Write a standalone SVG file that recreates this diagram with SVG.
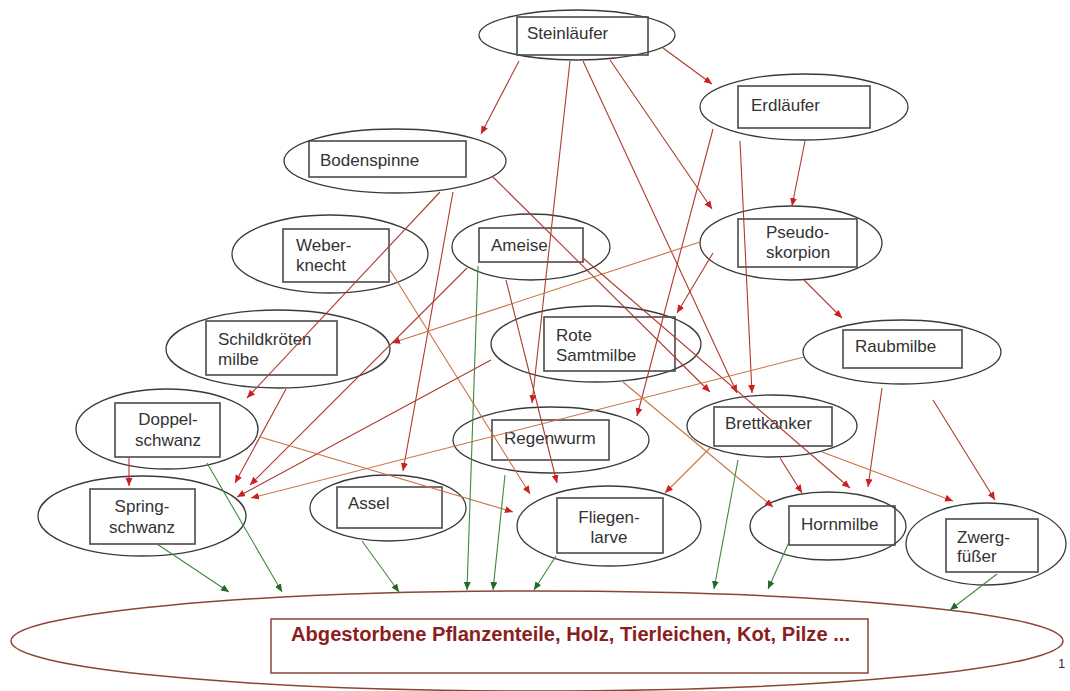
<svg xmlns="http://www.w3.org/2000/svg" width="1070" height="691" viewBox="0 0 1070 691">
<defs>
<style>
.el{fill:none;stroke:#3a3a3a;stroke-width:1.3}
.bx{fill:none;stroke:#4a4a4a;stroke-width:1.6}
.t{font-family:"Liberation Sans",Arial,sans-serif;font-size:17px;fill:#333}
.r{stroke:#b0392e;stroke-width:1.1;fill:none;marker-end:url(#ar)}
.o{stroke:#c8733f;stroke-width:1.1;fill:none;marker-end:url(#ar)}
.g{stroke:#3f8a3f;stroke-width:1.1;fill:none;marker-end:url(#ag)}
</style>
<marker id="ar" markerUnits="userSpaceOnUse" markerWidth="9" markerHeight="8" refX="8" refY="3.5" orient="auto"><path d="M0,0 L8,3.5 L0,7 z" fill="#cc1f1f"/></marker>
<marker id="ag" markerUnits="userSpaceOnUse" markerWidth="9" markerHeight="8" refX="8" refY="3.5" orient="auto"><path d="M0,0 L8,3.5 L0,7 z" fill="#1f6a2a"/></marker>
</defs>
<rect width="1070" height="691" fill="#ffffff"/>

<g id="detritus">
<ellipse cx="537" cy="641" rx="526" ry="50" fill="none" stroke="#8a4634" stroke-width="1.5"/>
<rect x="271" y="619" width="597" height="54" fill="none" stroke="#8a4634" stroke-width="1.5"/>
<text x="291" y="641" font-family="'Liberation Sans',Arial,sans-serif" font-size="20" font-weight="bold" fill="#8b1e1e" textLength="559" lengthAdjust="spacingAndGlyphs">Abgestorbene Pflanzenteile, Holz, Tierleichen, Kot, Pilze ...</text>
</g>

<g id="steinlaeufer"><ellipse class="el" cx="577" cy="35" rx="98" ry="25"/><rect class="bx" x="517" y="17" width="131" height="38"/><text class="t" x="527" y="39">Steinläufer</text></g>
<g id="erdlaeufer"><ellipse class="el" cx="804" cy="107" rx="104" ry="33"/><rect class="bx" x="738" y="86" width="132" height="42"/><text class="t" x="751" y="111">Erdläufer</text></g>
<g id="bodenspinne"><ellipse class="el" cx="395" cy="161" rx="111" ry="32"/><rect class="bx" x="309" y="141" width="157" height="36"/><text class="t" x="320" y="166">Bodenspinne</text></g>
<g id="pseudoskorpion"><ellipse class="el" cx="791" cy="243" rx="91" ry="37"/><rect class="bx" x="738" y="219" width="119" height="48"/><text class="t" x="766" y="238">Pseudo-</text><text class="t" x="766" y="258">skorpion</text></g>
<g id="weberknecht"><ellipse class="el" cx="330" cy="254" rx="98" ry="39"/><rect class="bx" x="283" y="229" width="106" height="53"/><text class="t" x="296" y="251">Weber-</text><text class="t" x="296" y="271">knecht</text></g>
<g id="ameise"><ellipse class="el" cx="531" cy="247" rx="79" ry="33"/><rect class="bx" x="479" y="228" width="104" height="34"/><text class="t" x="491" y="251">Ameise</text></g>
<g id="schildkroetenmilbe"><ellipse class="el" cx="278" cy="349" rx="112" ry="39"/><rect class="bx" x="206" y="321" width="131" height="54"/><text class="t" x="218" y="345">Schildkröten</text><text class="t" x="218" y="365">milbe</text></g>
<g id="rotesamtmilbe"><ellipse class="el" cx="596" cy="344" rx="105" ry="38"/><rect class="bx" x="544" y="317" width="131" height="54"/><text class="t" x="556" y="341">Rote</text><text class="t" x="556" y="361">Samtmilbe</text></g>
<g id="raubmilbe"><ellipse class="el" cx="902" cy="352" rx="99" ry="32"/><rect class="bx" x="843" y="330" width="119" height="38"/><text class="t" x="855" y="352">Raubmilbe</text></g>
<g id="doppelschwanz"><ellipse class="el" cx="167" cy="429" rx="91" ry="40"/><rect class="bx" x="115" y="403" width="105" height="54"/><text class="t" x="168" y="425" text-anchor="middle">Doppel-</text><text class="t" x="168" y="446" text-anchor="middle">schwanz</text></g>
<g id="regenwurm"><ellipse class="el" cx="551" cy="440" rx="98" ry="33"/><rect class="bx" x="492" y="420" width="117" height="40"/><text class="t" x="504" y="444">Regenwurm</text></g>
<g id="brettkanker"><ellipse class="el" cx="772" cy="426" rx="85" ry="31"/><rect class="bx" x="714" y="407" width="118" height="39"/><text class="t" x="725" y="429">Brettkanker</text></g>
<g id="springschwanz"><ellipse class="el" cx="142" cy="516" rx="104" ry="40"/><rect class="bx" x="90" y="489" width="105" height="55"/><text class="t" x="142" y="512" text-anchor="middle">Spring-</text><text class="t" x="142" y="533" text-anchor="middle">schwanz</text></g>
<g id="assel"><ellipse class="el" cx="388" cy="508" rx="78" ry="33"/><rect class="bx" x="337" y="487" width="105" height="41"/><text class="t" x="348" y="509">Assel</text></g>
<g id="fliegenlarve"><ellipse class="el" cx="609" cy="526" rx="92" ry="40"/><rect class="bx" x="557" y="498" width="106" height="55"/><text class="t" x="609" y="523" text-anchor="middle">Fliegen-</text><text class="t" x="609" y="543" text-anchor="middle">larve</text></g>
<g id="hornmilbe"><ellipse class="el" cx="828" cy="526" rx="78" ry="34"/><rect class="bx" x="789" y="506" width="106" height="39"/><text class="t" x="801" y="530">Hornmilbe</text></g>
<g id="zwergfuesser"><ellipse class="el" cx="986" cy="544" rx="80" ry="41"/><rect class="bx" x="946" y="519" width="92" height="53"/><text class="t" x="957" y="543">Zwerg-</text><text class="t" x="957" y="562">füßer</text></g>

<g id="connectors">
<line class="r" x1="519" y1="61" x2="481" y2="134"/>
<line class="r" x1="663" y1="48" x2="712" y2="84"/>
<line class="r" x1="610" y1="60" x2="712" y2="209"/>
<line class="r" x1="570" y1="61" x2="532" y2="403"/>
<line class="r" x1="583" y1="61" x2="737" y2="393"/>
<line class="r" x1="805" y1="141" x2="792" y2="206"/>
<line class="r" x1="740" y1="141" x2="752" y2="393"/>
<line class="r" x1="713" y1="129" x2="637" y2="416"/>
<line class="r" x1="440" y1="192" x2="247" y2="398"/>
<line class="r" x1="453" y1="192" x2="403" y2="471"/>
<line class="r" x1="493" y1="177" x2="710" y2="392"/>
<line class="r" x1="804" y1="280" x2="842" y2="318"/>
<line class="r" x1="713" y1="253" x2="677" y2="313"/>
<line class="o" x1="700" y1="242" x2="392" y2="343"/>
<line class="o" x1="390" y1="270" x2="530" y2="494"/>
<line class="r" x1="506" y1="280" x2="557" y2="483"/>
<line class="r" x1="583" y1="258" x2="850" y2="488"/>
<line class="r" x1="467" y1="268" x2="250" y2="485"/>
<line class="r" x1="286" y1="389" x2="235" y2="483"/>
<line class="r" x1="491" y1="360" x2="237" y2="497"/>
<line class="o" x1="623" y1="382" x2="773" y2="507"/>
<line class="o" x1="804" y1="357" x2="251" y2="498"/>
<line class="r" x1="882" y1="388" x2="868" y2="487"/>
<line class="r" x1="933" y1="400" x2="995" y2="500"/>
<line class="r" x1="129" y1="458" x2="129" y2="486"/>
<line class="o" x1="260" y1="437" x2="513" y2="512"/>
<line class="o" x1="710" y1="448" x2="665" y2="493"/>
<line class="r" x1="780" y1="458" x2="802" y2="493"/>
<line class="o" x1="822" y1="452" x2="953" y2="501"/>
<line class="g" x1="157" y1="544" x2="229" y2="592"/>
<line class="g" x1="207" y1="463" x2="282" y2="592"/>
<line class="g" x1="362" y1="541" x2="399" y2="592"/>
<line class="g" x1="478" y1="266" x2="467" y2="590"/>
<line class="g" x1="505" y1="475" x2="493" y2="590"/>
<line class="g" x1="556" y1="556" x2="534" y2="590"/>
<line class="g" x1="738" y1="460" x2="714" y2="589"/>
<line class="g" x1="790" y1="540" x2="768" y2="589"/>
<line class="g" x1="997" y1="574" x2="950" y2="610"/>
</g>

<text x="1058" y="668" font-family="'Liberation Sans',Arial,sans-serif" font-size="13" fill="#333">1</text>
</svg>
